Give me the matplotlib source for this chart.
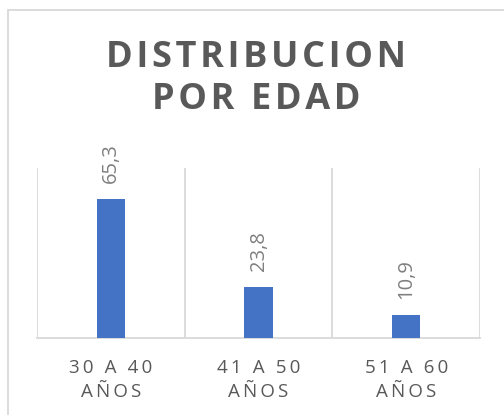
import matplotlib
matplotlib.use("Agg")
import matplotlib.pyplot as plt
from matplotlib.patches import Rectangle

# Datos
categorias = ["30 A 40\nAÑOS", "41 A 50\nAÑOS", "51 A 60\nAÑOS"]
valores = [65.3, 23.8, 10.9]
etiquetas = ["65,3", "23,8", "10,9"]

plt.rcParams['font.family'] = ['Open Sans', 'DejaVu Sans']

def espaciado(txt, sep="\u2009"):
    # separa las letras para imitar el espaciado de Excel
    return "\n".join(sep.join(list(linea)) for linea in txt.split("\n"))

W, H = 504, 415
fig = plt.figure(figsize=(W / 100, H / 100), dpi=100)

# borde del grafico
fig.patches.append(Rectangle((8 / W, -0.1), 1.2, 1 - 10 / H + 0.1, transform=fig.transFigure,
                             fill=False, edgecolor='#d9d9d9', linewidth=1.3))

ax = fig.add_axes([37 / W, 1 - 338 / H, (480 - 37) / W, (338 - 168) / H])
x = range(len(valores))
ax.bar(x, valores, width=0.19, color='#4472C4', zorder=3)
ax.set_xlim(-0.5, 2.5)
ax.set_ylim(0, 80)

for xi, v, e in zip(x, valores, etiquetas):
    ax.annotate(e, (xi, v), xytext=(0, 11.5), textcoords='offset points',
                rotation=90, ha='center', va='bottom', fontsize=14.5, color='#7f7f7f')

ax.set_xticks(list(x))
ax.set_xticklabels([espaciado(c) for c in categorias], fontsize=13.5, color='#595959',
                   linespacing=1.42)
ax.set_xticks([-0.5, 0.5, 1.5, 2.5], minor=True)
ax.tick_params(axis='x', which='both', length=0, pad=15)
ax.set_yticks([])
ax.grid(True, which='minor', axis='x', color='#d9d9d9', linewidth=1.3, zorder=0)
for s in ['top', 'left', 'right']:
    ax.spines[s].set_visible(False)
ax.spines['bottom'].set_color('#d9d9d9')
ax.spines['bottom'].set_linewidth(1.3)

fig.text(256 / W, 1 - 79 / H, espaciado("DISTRIBUCION\nPOR EDAD", "\u200a"), ha='center', va='center',
         fontsize=26, fontweight='bold', color='#595959', linespacing=1.2)

fig.savefig('out.png', dpi=100)
